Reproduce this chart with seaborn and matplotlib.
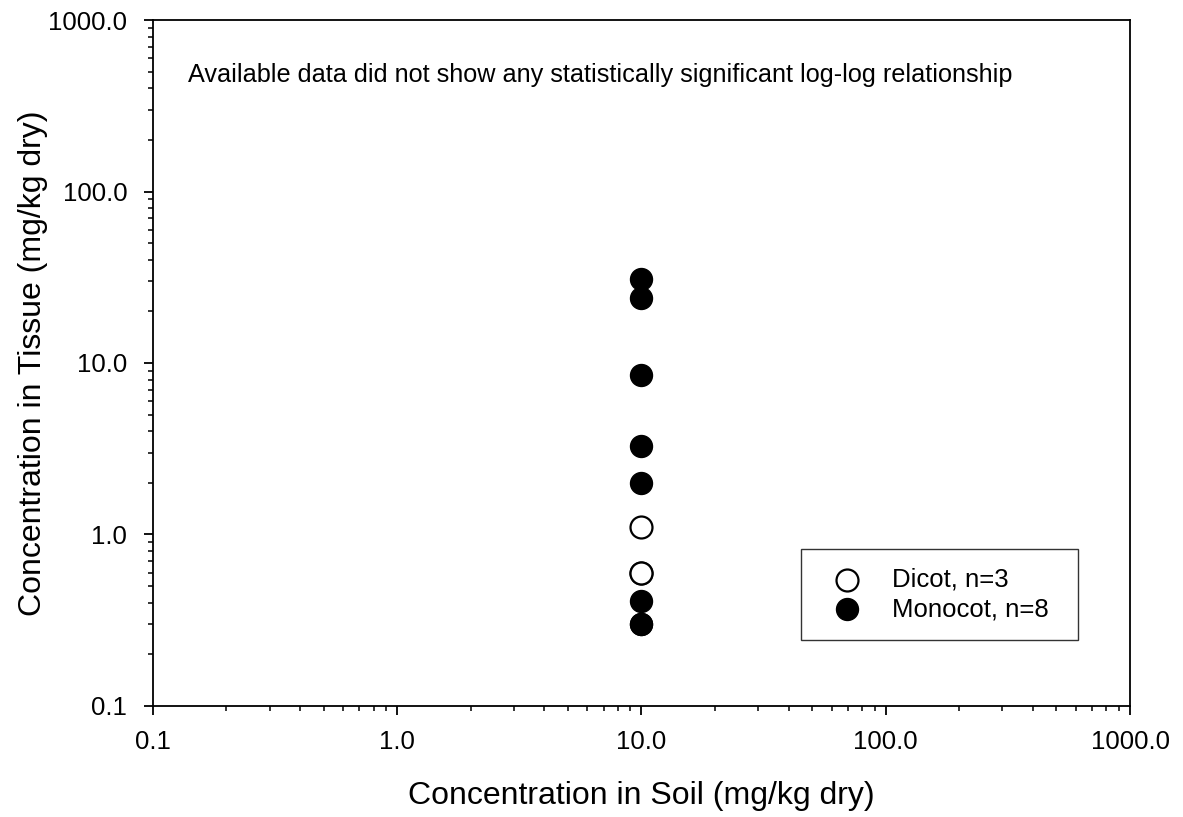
import matplotlib
matplotlib.use("Agg")
import matplotlib.pyplot as plt
import seaborn as sns
import pandas as pd
from matplotlib.ticker import FixedLocator, LogLocator, NullFormatter

sns.set_style("white")
plt.rcParams['font.family'] = ['Liberation Sans', 'DejaVu Sans']
plt.rcParams['text.color'] = 'black'
plt.rcParams['axes.labelcolor'] = 'black'
plt.rcParams['xtick.color'] = 'black'
plt.rcParams['ytick.color'] = 'black'

# Data
dicot_soil = [10.0, 10.0, 10.0]
dicot_tissue = [1.1, 0.6, 0.6]
monocot_soil = [10.0, 10.0, 10.0, 10.0, 10.0, 10.0, 10.0, 10.0]
monocot_tissue = [31.0, 24.0, 8.5, 3.3, 2.0, 0.41, 0.3, 0.3]
groups = ["Dicot, n=3", "Monocot, n=8"]
tick_vals = [0.1, 1.0, 10.0, 100.0, 1000.0]
tick_labels = ["0.1", "1.0", "10.0", "100.0", "1000.0"]

df_d = pd.DataFrame({"soil": dicot_soil, "tissue": dicot_tissue})
df_m = pd.DataFrame({"soil": monocot_soil, "tissue": monocot_tissue})

fig = plt.figure(figsize=(11.83, 8.17), dpi=100)
ax = fig.add_axes([0.1293, 0.1359, 0.8259, 0.8396])

sns.scatterplot(data=df_d, x="soil", y="tissue", ax=ax, s=250, marker="o",
                facecolor="white", edgecolor="black", linewidth=1.6,
                label=groups[0], zorder=3)
sns.scatterplot(data=df_m, x="soil", y="tissue", ax=ax, s=250, marker="o",
                color="black", edgecolor="black", linewidth=1.0,
                label=groups[1], zorder=3)

ax.set_xscale("log")
ax.set_yscale("log")
ax.set_xlim(0.1, 1000)
ax.set_ylim(0.1, 1000)
ax.xaxis.set_major_locator(FixedLocator(tick_vals))
ax.yaxis.set_major_locator(FixedLocator(tick_vals))
ax.set_xticklabels(tick_labels)
ax.set_yticklabels(tick_labels)
ax.xaxis.set_minor_locator(LogLocator(base=10, subs=range(2, 10)))
ax.yaxis.set_minor_locator(LogLocator(base=10, subs=range(2, 10)))
ax.xaxis.set_minor_formatter(NullFormatter())
ax.yaxis.set_minor_formatter(NullFormatter())

ax.tick_params(axis="both", which="major", direction="out", length=6.5, width=1.3,
               labelsize=18.5, bottom=True, left=True, top=False, right=False)
ax.tick_params(axis="both", which="minor", direction="out", length=3.6, width=1.1,
               bottom=True, left=True, top=False, right=False)
ax.tick_params(axis="x", which="major", pad=11)
ax.tick_params(axis="y", which="major", pad=12)

for sp in ax.spines.values():
    sp.set_color("black")
    sp.set_linewidth(1.3)

ax.set_xlabel("Concentration in Soil (mg/kg dry)", fontsize=23, labelpad=19)
ax.set_ylabel("Concentration in Tissue (mg/kg dry)", fontsize=23, labelpad=0)

ax.text(0.036, 0.91, "Available data did not show any statistically significant log-log relationship",
        transform=ax.transAxes, fontsize=18.2, va="baseline", ha="left")

leg = ax.legend(loc="center", bbox_to_anchor=(0.663, 0.0962, 0.284, 0.1327), mode="expand",
                fontsize=18.5, frameon=True, fancybox=False, edgecolor="black",
                borderpad=0.75, borderaxespad=0.0, handlelength=2.1, handletextpad=0.7,
                labelspacing=0.2, markerscale=1.0)
leg.get_frame().set_linewidth(1.0)

fig.savefig("out.png", dpi=100)
